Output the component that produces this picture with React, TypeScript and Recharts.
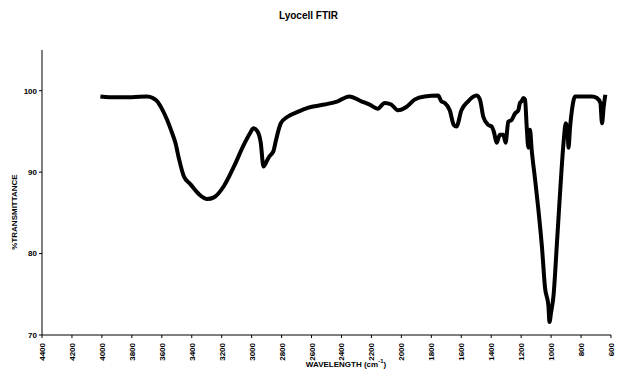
import React from "react";
import { LineChart, Line, XAxis, YAxis } from "recharts";

// wavenumber (cm-1), read left to right off the reference
const wavenumbers = [
  4010, 3950, 3877, 3800, 3698, 3660, 3631, 3600, 3564, 3535, 3509, 3486, 3453,
  3408, 3352, 3296, 3252, 3185, 3118, 3051, 3010, 2988, 2961, 2939, 2921, 2900,
  2883, 2854, 2839, 2805, 2760, 2693, 2626, 2515, 2425, 2348, 2267, 2212, 2157,
  2112, 2068, 2023, 1967, 1912, 1845, 1755, 1733, 1711, 1677, 1650, 1632, 1599,
  1554, 1498, 1475, 1453, 1420, 1397, 1380, 1364, 1342, 1319, 1304, 1286, 1264,
  1241, 1219, 1208, 1197, 1185, 1174, 1163, 1152, 1141, 1130, 1107, 1085, 1062,
  1040, 1018, 1011, 1000, 984, 962, 940, 917, 902, 890, 884, 873, 861, 839, 727,
  694, 671, 660, 649, 638,
];

const transmittance = [
  99.3, 99.2, 99.2, 99.2, 99.3, 99.1, 98.7, 97.8, 96.4, 95.0, 93.6, 91.7, 89.5,
  88.5, 87.3, 86.7, 86.9, 88.3, 90.7, 93.4, 94.8, 95.4, 95.0, 93.6, 90.7, 91.3,
  91.9, 92.6, 93.8, 96.0, 96.8, 97.4, 97.9, 98.3, 98.7, 99.3, 98.7, 98.3, 97.8,
  98.5, 98.3, 97.6, 98.0, 98.9, 99.3, 99.4, 98.7, 98.5, 97.6, 95.8, 95.6, 97.6,
  98.7, 99.4, 98.9, 96.8, 95.8, 95.6, 94.8, 93.6, 94.6, 94.6, 93.6, 96.2, 96.4,
  97.2, 97.6, 98.5, 98.7, 99.1, 98.9, 95.6, 93.0, 95.2, 92.8, 89.1, 85.4, 81.0,
  75.7, 73.6, 71.6, 72.8, 74.8, 81.0, 87.5, 93.6, 96.0, 95.2, 93.0, 95.6, 97.6,
  99.3, 99.3, 99.1, 98.5, 96.0, 98.0, 99.5,
];

const xTicks = [
  4400, 4200, 4000, 3800, 3600, 3400, 3200, 3000, 2800, 2600, 2400, 2200, 2000,
  1800, 1600, 1400, 1200, 1000, 800, 600,
];
const yTicks = [70, 80, 90, 100];

const data = wavenumbers.map((w, i) => ({ w, t: transmittance[i] }));

const font = "'Liberation Sans', Arial, sans-serif";

const XTick = (props: any) => {
  const { x, y, payload } = props;
  return (
    <text
      x={0}
      y={0}
      transform={`translate(${x + 3},${y + 3}) rotate(-90)`}
      textAnchor="end"
      fontSize={8}
      fontWeight="bold"
      fontFamily={font}
      fill="#000"
    >
      {payload.value}
    </text>
  );
};

export default function App() {
  return (
    <div
      style={{
        position: "absolute",
        left: 0,
        top: 0,
        width: 617,
        height: 374,
        background: "#fff",
        fontFamily: font,
      }}
    >
      <div
        style={{
          position: "absolute",
          left: 0,
          width: 617,
          top: 10,
          textAlign: "center",
          fontSize: 10,
          fontWeight: "bold",
        }}
      >
        Lyocell FTIR
      </div>
      <div
        style={{
          position: "absolute",
          left: 14,
          top: 212,
          transform: "translate(-50%, -50%) rotate(-90deg)",
          fontSize: 8,
          fontWeight: "bold",
          whiteSpace: "nowrap",
        }}
      >
        %TRANSMITTANCE
      </div>
      <div
        style={{
          position: "absolute",
          left: 346,
          top: 360,
          transform: "translateX(-50%)",
          fontSize: 8,
          fontWeight: "bold",
          whiteSpace: "nowrap",
          lineHeight: "10px",
        }}
      >
        WAVELENGTH (cm<sup style={{ fontSize: 6, lineHeight: 0 }}>-1</sup>)
      </div>
      <LineChart
        width={617}
        height={374}
        data={data}
        margin={{ top: 50, right: 6, bottom: 0, left: 0 }}
      >
        <XAxis
          dataKey="w"
          type="number"
          domain={[600, 4400]}
          reversed
          ticks={xTicks}
          interval={0}
          height={39}
          tickSize={3}
          stroke="#000"
          tick={<XTick />}
        />
        <YAxis
          type="number"
          domain={[70, 105]}
          ticks={yTicks}
          width={42}
          tickSize={3}
          stroke="#000"
          tick={{ fontSize: 8, fontWeight: "bold", fill: "#000", fontFamily: font }}
        />
        <Line
          dataKey="t"
          type="monotone"
          stroke="#000"
          strokeWidth={4}
          dot={false}
          isAnimationActive={false}
        />
      </LineChart>
    </div>
  );
}
